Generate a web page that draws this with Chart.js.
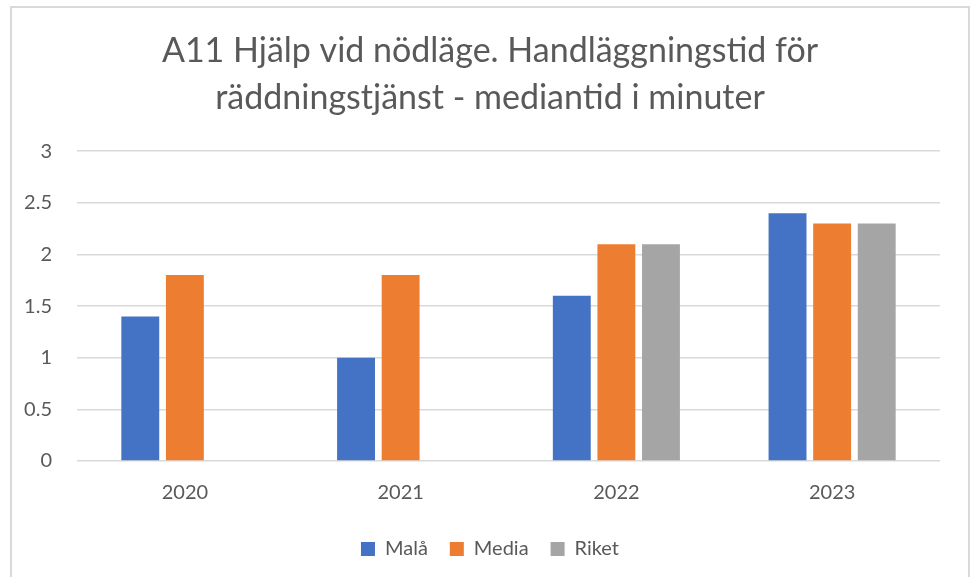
<!DOCTYPE html>
<html>
<head>
<meta charset="utf-8">
<script src="https://cdn.jsdelivr.net/npm/chart.js@4"></script>
<style>
  body { margin: 0; background: #fff; }
  #wrap {
    position: absolute; left: 10px; top: 6px;
    width: 960px; height: 575px;
    border: 2px solid #d9d9d9; box-sizing: border-box;
  }
  #wrap canvas { display: block; }
</style>
</head>
<body>
<div id="wrap"><canvas id="chart" width="956" height="571"></canvas></div>
<script>
const years = ["2020", "2021", "2022", "2023"];
const mala = [1.4, 1.0, 1.6, 2.4];
const media = [1.8, 1.8, 2.1, 2.3];
const riket = [null, null, 2.1, 2.3];
const yTicks = [0, 0.5, 1, 1.5, 2, 2.5, 3];

const textColor = "#595959";
const fontFamily = "Lato, 'Open Sans', sans-serif";

const ctx = document.getElementById("chart");

new Chart(ctx, {
    type: "bar",
    data: {
        labels: years,
        datasets: [
            { label: "Malå", data: mala, backgroundColor: "#4472C4" },
            { label: "Media", data: media, backgroundColor: "#ED7D31" },
            { label: "Riket", data: riket, backgroundColor: "#A5A5A5" },
        ],
    },
    options: {
        responsive: false,
        animation: false,
        categoryPercentage: 0.62,
        barPercentage: 0.85,
        layout: {
            padding: { left: 0, right: 0, top: 18, bottom: 10 },
        },
        scales: {
            x: {
                grid: { display: false },
                border: { display: false },
                ticks: { color: textColor, font: { family: fontFamily, size: 20 }, padding: 12 },
            },
            y: {
                min: 0,
                max: 3,
                afterBuildTicks: (axis) => {
                    axis.ticks = yTicks.map((v) => ({ value: v }));
                },
                afterFit: (axis) => {
                    axis.width = 65;
                },
                grid: { color: "#d9d9d9", lineWidth: 1.5, drawTicks: false },
                border: { display: false },
                ticks: {
                    color: textColor,
                    font: { family: fontFamily, size: 20 },
                    padding: 25,
                    callback: (v) => String(v),
                },
            },
            // empty spacer on the right so the title stays centred on the canvas
            spacer: {
                type: "linear",
                position: "right",
                grid: { display: false },
                border: { display: false },
                ticks: { display: false },
                afterFit: (axis) => {
                    axis.width = 28;
                },
            },
        },
        plugins: {
            title: {
                display: true,
                text: ["A11 Hjälp vid nödläge. Handläggningstid för", "räddningstjänst - mediantid i minuter"],
                color: textColor,
                font: { family: fontFamily, size: 34, weight: "normal", lineHeight: 1.4 },
                padding: { top: 1, bottom: 29 },
            },
            legend: {
                position: "bottom",
                labels: {
                    color: textColor,
                    font: { family: fontFamily, size: 20 },
                    boxWidth: 14,
                    boxHeight: 14,
                    padding: 22,
                },
            },
            tooltip: { enabled: false },
        },
    },
});
</script>
</body>
</html>
